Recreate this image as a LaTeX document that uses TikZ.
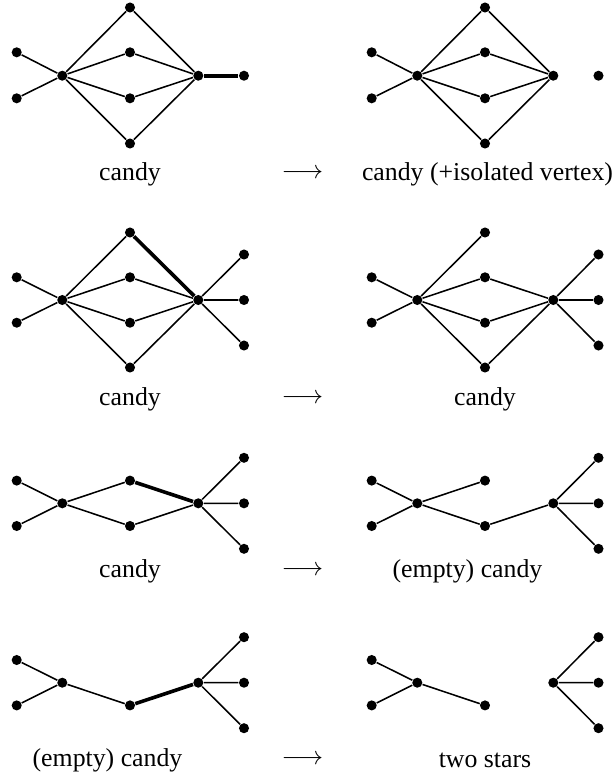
\documentclass[tikz,border=0pt]{standalone}
\usepackage{fontspec}
\setmainfont{Liberation Serif}
\begin{document}
\begin{tikzpicture}[x=0.3876pt,y=-0.3876pt,
  v/.style={circle,fill=black,inner sep=0pt,minimum size=3.9pt},
  e/.style={line width=0.6pt},
  heavy/.style={line width=1.4pt},
  lab/.style={font=\fontsize{10}{12}\selectfont,inner sep=0pt}]
\useasboundingbox (0,0) rectangle (615,776);

% ---------- Row 1 left ----------
\node[v] (A1) at (16.7,52.3) {};
\node[v] (A2) at (16.7,98.3) {};
\node[v] (AH) at (62.3,75.7) {};
\node[v] (AM1) at (130,7.5) {};
\node[v] (AM2) at (130,52.3) {};
\node[v] (AM3) at (130,98.3) {};
\node[v] (AM4) at (130,143.5) {};
\node[v] (AK) at (198.3,75.7) {};
\node[v] (AE) at (244,75.7) {};
\draw[e] (A1)--(AH) (A2)--(AH)
  (AH)--(AM1) (AH)--(AM2) (AH)--(AM3) (AH)--(AM4)
  (AM1)--(AK) (AM2)--(AK) (AM3)--(AK) (AM4)--(AK);
\draw[heavy] (AK)--(AE);

% ---------- Row 1 right ----------
\node[v] (B1) at (371.7,52.3) {};
\node[v] (B2) at (371.7,98.3) {};
\node[v] (BH) at (417.3,75.7) {};
\node[v] (BM1) at (485,7.5) {};
\node[v] (BM2) at (485,52.3) {};
\node[v] (BM3) at (485,98.3) {};
\node[v] (BM4) at (485,143.5) {};
\node[v] (BK) at (553.3,75.7) {};
\node[v] (BE) at (598.5,75.7) {};
\draw[e] (B1)--(BH) (B2)--(BH)
  (BH)--(BM1) (BH)--(BM2) (BH)--(BM3) (BH)--(BM4)
  (BM1)--(BK) (BM2)--(BK) (BM3)--(BK) (BM4)--(BK);

\node[lab] (L1a) at (130,174) {candy};
\node[lab] (R1) at (302.5,174) {$\longrightarrow$};
\node[lab] (L1b) at (487.5,174) {candy (+isolated vertex)};

% ---------- Row 2 left ----------
\node[v] (C1) at (16.7,277.3) {};
\node[v] (C2) at (16.7,322.7) {};
\node[v] (CH) at (62.3,300) {};
\node[v] (CM1) at (130,232.5) {};
\node[v] (CM2) at (130,277.3) {};
\node[v] (CM3) at (130,322.7) {};
\node[v] (CM4) at (130,367.5) {};
\node[v] (CK) at (198.3,300) {};
\node[v] (CR1) at (244,254.5) {};
\node[v] (CR2) at (244,300) {};
\node[v] (CR3) at (244,345.5) {};
\draw[e] (C1)--(CH) (C2)--(CH)
  (CH)--(CM1) (CH)--(CM2) (CH)--(CM3) (CH)--(CM4)
  (CM2)--(CK) (CM3)--(CK) (CM4)--(CK)
  (CK)--(CR1) (CK)--(CR2) (CK)--(CR3);
\draw[heavy] (CM1)--(CK);

% ---------- Row 2 right ----------
\node[v] (D1) at (371.7,277.3) {};
\node[v] (D2) at (371.7,322.7) {};
\node[v] (DH) at (417.3,300) {};
\node[v] (DM1) at (485,232.5) {};
\node[v] (DM2) at (485,277.3) {};
\node[v] (DM3) at (485,322.7) {};
\node[v] (DM4) at (485,367.5) {};
\node[v] (DK) at (553.3,300) {};
\node[v] (DR1) at (598.5,254.5) {};
\node[v] (DR2) at (598.5,300) {};
\node[v] (DR3) at (598.5,345.5) {};
\draw[e] (D1)--(DH) (D2)--(DH)
  (DH)--(DM1) (DH)--(DM2) (DH)--(DM3) (DH)--(DM4)
  (DM2)--(DK) (DM3)--(DK) (DM4)--(DK)
  (DK)--(DR1) (DK)--(DR2) (DK)--(DR3);

\node[lab] (L2a) at (130,399) {candy};
\node[lab] (R2) at (302.5,399) {$\longrightarrow$};
\node[lab] (L2b) at (485,399) {candy};

% ---------- Row 3 left ----------
\node[v] (E1) at (16.7,480.6) {};
\node[v] (E2) at (16.7,526) {};
\node[v] (EH) at (62.3,503.3) {};
\node[v] (EM1) at (130,480.6) {};
\node[v] (EM2) at (130,526) {};
\node[v] (EK) at (198.3,503.3) {};
\node[v] (ER1) at (244,457.8) {};
\node[v] (ER2) at (244,503.3) {};
\node[v] (ER3) at (244,548.8) {};
\draw[e] (E1)--(EH) (E2)--(EH)
  (EH)--(EM1) (EH)--(EM2) (EM2)--(EK)
  (EK)--(ER1) (EK)--(ER2) (EK)--(ER3);
\draw[heavy] (EM1)--(EK);

% ---------- Row 3 right ----------
\node[v] (F1) at (371.7,480.6) {};
\node[v] (F2) at (371.7,526) {};
\node[v] (FH) at (417.3,503.3) {};
\node[v] (FM1) at (485,480.6) {};
\node[v] (FM2) at (485,526) {};
\node[v] (FK) at (553.3,503.3) {};
\node[v] (FR1) at (598.5,457.8) {};
\node[v] (FR2) at (598.5,503.3) {};
\node[v] (FR3) at (598.5,548.8) {};
\draw[e] (F1)--(FH) (F2)--(FH)
  (FH)--(FM1) (FH)--(FM2) (FM2)--(FK)
  (FK)--(FR1) (FK)--(FR2) (FK)--(FR3);

\node[lab] (L3a) at (130,571) {candy};
\node[lab] (R3) at (302.5,571) {$\longrightarrow$};
\node[lab] (L3b) at (467.5,571) {(empty) candy};

% ---------- Row 4 left ----------
\node[v] (G1) at (16.7,660) {};
\node[v] (G2) at (16.7,705.4) {};
\node[v] (GH) at (62.3,682.7) {};
\node[v] (GM) at (130,705.4) {};
\node[v] (GK) at (198.3,682.7) {};
\node[v] (GR1) at (244,637.2) {};
\node[v] (GR2) at (244,682.7) {};
\node[v] (GR3) at (244,728.2) {};
\draw[e] (G1)--(GH) (G2)--(GH) (GH)--(GM)
  (GK)--(GR1) (GK)--(GR2) (GK)--(GR3);
\draw[heavy] (GM)--(GK);

% ---------- Row 4 right ----------
\node[v] (H1) at (371.7,660) {};
\node[v] (H2) at (371.7,705.4) {};
\node[v] (HH) at (417.3,682.7) {};
\node[v] (HM) at (485,705.4) {};
\node[v] (HK) at (553.3,682.7) {};
\node[v] (HR1) at (598.5,637.2) {};
\node[v] (HR2) at (598.5,682.7) {};
\node[v] (HR3) at (598.5,728.2) {};
\draw[e] (H1)--(HH) (H2)--(HH) (HH)--(HM)
  (HK)--(HR1) (HK)--(HR2) (HK)--(HR3);

\node[lab] (L4a) at (107.5,760) {(empty) candy};
\node[lab] (R4) at (302.5,760) {$\longrightarrow$};
\node[lab] (L4b) at (485,760) {two stars};
\end{tikzpicture}
\end{document}
